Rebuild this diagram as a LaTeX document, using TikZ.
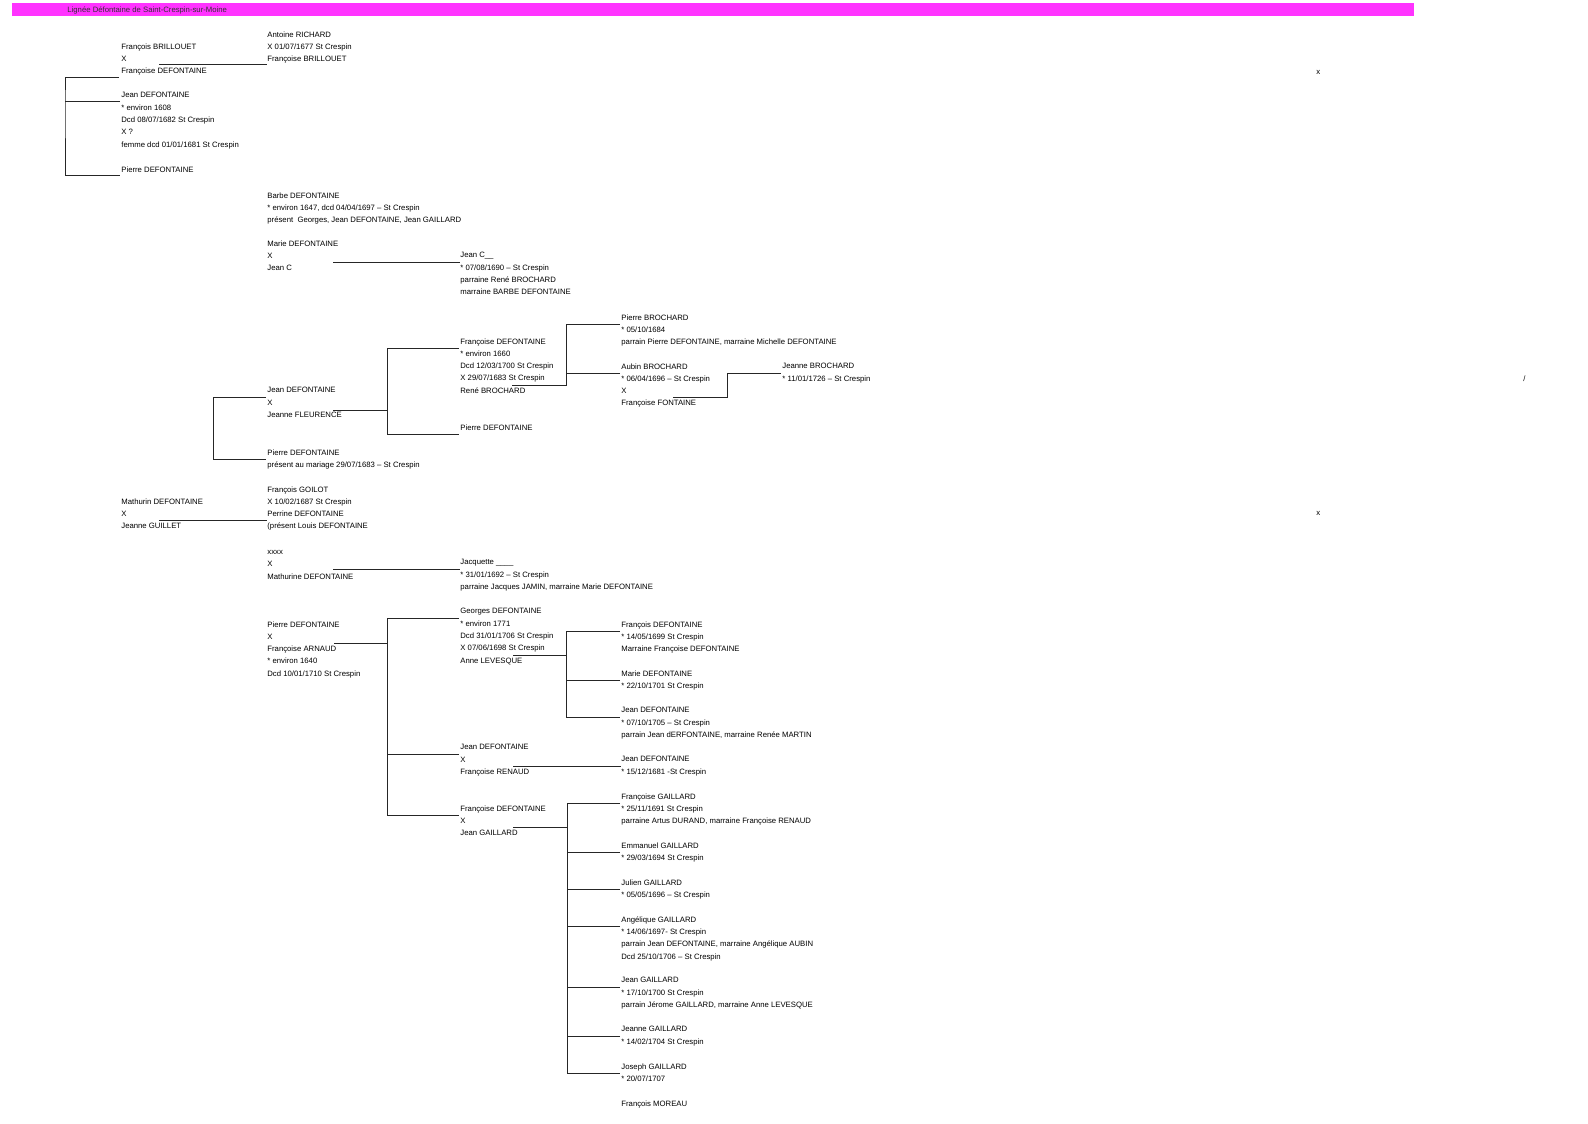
\documentclass[tikz,border=0pt]{standalone}
\usepackage{fontspec}
\setmainfont{Liberation Sans}
\usetikzlibrary{calc}
\definecolor{titlepink}{RGB}{255,51,255}

\begin{document}
\begin{tikzpicture}[
    person/.style={anchor=north west, inner sep=0pt, align=left,
        font=\fontsize{3.87}{6.15}\selectfont},
    tie/.style={draw=black!85, line width=0.5pt},
    x=0.5pt, y=-0.5pt
]
\useasboundingbox (0,0) rectangle (1588,1123);

% ── Title bar ────────────────────────────────────────────────────────────────
\fill[titlepink] (12,3) rectangle (1414,16);
\node[person, text=black!80] (title) at (67,6) {Lignée Défontaine de Saint-Crespin-sur-Moine};

% ── Column 1 ─────────────────────────────────────────────────────────────────
\node[person] (fb)  at (121,43)  {François BRILLOUET\\X\\Françoise DEFONTAINE};
\node[person] (jd)  at (121,92)  {Jean DEFONTAINE\\* environ 1608\\Dcd 08/07/1682 St Crespin\\X ?\\femme dcd 01/01/1681 St Crespin};
\node[person] (pd1) at (121,166) {Pierre DEFONTAINE};
\node[person] (mtd) at (121,498) {Mathurin DEFONTAINE\\X\\Jeanne GUILLET};

% ── Column 2 ─────────────────────────────────────────────────────────────────
\node[person] (ar)  at (267,31)  {Antoine RICHARD\\X 01/07/1677 St Crespin\\Françoise BRILLOUET};
\node[person] (bd)  at (267,192) {Barbe DEFONTAINE\\* environ 1647, dcd 04/04/1697 – St Crespin\\présent~ Georges, Jean DEFONTAINE, Jean GAILLARD};
\node[person] (md)  at (267,240) {Marie DEFONTAINE\\X\\Jean C};
\node[person] (jfl) at (267,387) {Jean DEFONTAINE\\X\\Jeanne FLEURENCE};
\node[person] (pd3) at (267,449) {Pierre DEFONTAINE\\présent au mariage 29/07/1683 – St Crespin};
\node[person] (fg)  at (267,486) {François GOILOT\\X 10/02/1687 St Crespin\\Perrine DEFONTAINE\\(présent Louis DEFONTAINE};
\node[person] (xx)  at (267,550) {xxxx\\X\\Mathurine DEFONTAINE};
\node[person] (pa)  at (267,621) {Pierre DEFONTAINE\\X\\Françoise ARNAUD\\* environ 1640\\Dcd 10/01/1710 St Crespin};

% ── Column 3 ─────────────────────────────────────────────────────────────────
\node[person] (jc)  at (460,252) {Jean C\_\_\\* 07/08/1690 – St Crespin\\parraine René BROCHARD\\marraine BARBE DEFONTAINE};
\node[person] (fd1) at (460,338) {Françoise DEFONTAINE\\* environ 1660\\Dcd 12/03/1700 St Crespin\\X 29/07/1683 St Crespin\\René BROCHARD};
\node[person] (pd2) at (460,424) {Pierre DEFONTAINE};
\node[person] (jq)  at (460,559) {Jacquette \_\_\_\_\\* 31/01/1692 – St Crespin\\parraine Jacques JAMIN, marraine Marie DEFONTAINE};
\node[person] (gd)  at (460,608) {Georges DEFONTAINE\\* environ 1771\\Dcd 31/01/1706 St Crespin\\X 07/06/1698 St Crespin\\Anne LEVESQUE};
\node[person] (jr)  at (460,744) {Jean DEFONTAINE\\X\\Françoise RENAUD};
\node[person] (fd2) at (460,805) {Françoise DEFONTAINE\\X\\Jean GAILLARD};

% ── Column 4 ─────────────────────────────────────────────────────────────────
\node[person] (pb)  at (621,314)  {Pierre BROCHARD\\* 05/10/1684\\parrain Pierre DEFONTAINE, marraine Michelle DEFONTAINE};
\node[person] (ab)  at (621,363)  {Aubin BROCHARD\\* 06/04/1696 – St Crespin\\X\\Françoise FONTAINE};
\node[person] (frd) at (621,621)  {François DEFONTAINE\\* 14/05/1699 St Crespin\\Marraine Françoise DEFONTAINE};
\node[person] (mad) at (621,670)  {Marie DEFONTAINE\\* 22/10/1701 St Crespin};
\node[person] (jd2) at (621,707)  {Jean DEFONTAINE\\* 07/10/1705 – St Crespin\\parrain Jean dERFONTAINE, marraine Renée MARTIN};
\node[person] (jd3) at (621,756)  {Jean DEFONTAINE\\* 15/12/1681 -St Crespin};
\node[person] (fga) at (621,793)  {Françoise GAILLARD\\* 25/11/1691 St Crespin\\parraine Artus DURAND, marraine Françoise RENAUD};
\node[person] (eg)  at (621,842)  {Emmanuel GAILLARD\\* 29/03/1694 St Crespin};
\node[person] (jug) at (621,879)  {Julien GAILLARD\\* 05/05/1696 – St Crespin};
\node[person] (ag)  at (621,916)  {Angélique GAILLARD\\* 14/06/1697- St Crespin\\parrain Jean DEFONTAINE, marraine Angélique AUBIN\\Dcd 25/10/1706 – St Crespin};
\node[person] (jg)  at (621,977)  {Jean GAILLARD\\* 17/10/1700 St Crespin\\parrain Jérome GAILLARD, marraine Anne LEVESQUE};
\node[person] (jeg) at (621,1026) {Jeanne GAILLARD\\* 14/02/1704 St Crespin};
\node[person] (jog) at (621,1063) {Joseph GAILLARD\\* 20/07/1707};
\node[person] (fm)  at (621,1100) {François MOREAU};

% ── Column 5 and stray marks ─────────────────────────────────────────────────
\node[person] (jb)  at (782,363)  {Jeanne BROCHARD\\* 11/01/1726 – St Crespin};
\node[person] (mk1) at (1316,70)  {x};
\node[person] (mk2) at (1523,375) {/};
\node[person] (mk3) at (1316,511) {x};

% ── Branch ends and spines ───────────────────────────────────────────────────
\foreach \p in {jd,pd1,jfl,pd3,fd1,pd2,pb,ab,jb,gd,jr,fd2,frd,mad,jd2,fga,eg,jug,ag,jg,jeg,jog}
    \coordinate (\p-in) at ($(\p.north west)+(-1,10)$);
\coordinate (fb-in) at ($(fb.north west)+(-2,35)$);

\coordinate (s-top)    at (65,0);
\coordinate (s-jean)   at (213,0);
\coordinate (s-fleur)  at (387,0);
\coordinate (s-broch)  at (566,0);
\coordinate (s-aubin)  at (727,0);
\coordinate (s-arnaud) at (387,0);
\coordinate (s-georg)  at (566,0);
\coordinate (s-gail)   at (567,0);

% ── Marriages ────────────────────────────────────────────────────────────────
\draw[tie] ($(fb.north west)+(38,22)$)  coordinate (m) -- (m -| ar.west);
\draw[tie] ($(md.north west)+(66,22)$)  coordinate (m) -- (m -| jc.west);
\draw[tie] ($(mtd.north west)+(38,22)$) coordinate (m) -- (m -| fg.west);
\draw[tie] ($(xx.north west)+(66,19)$)  coordinate (m) -- (m -| jq.west);
\draw[tie] ($(jr.north west)+(53,22)$)  coordinate (m) -- (m -| jd3.west);

% ── Brackets ─────────────────────────────────────────────────────────────────
\draw[tie] (fb-in) -| (s-top |- jd-in) |- (pd1-in);
\draw[tie] (jd-in) -- (jd-in -| s-top);

\draw[tie] (jfl-in) -| (s-jean |- pd3-in) -- (pd3-in);

\draw[tie] ($(jfl.north west)+(66,23)$) coordinate (m) -- (m -| s-fleur);
\draw[tie] (fd1-in) -| (s-fleur |- pd2-in) -- (pd2-in);

\draw[tie] ($(fd1.north west)+(52,47)$) coordinate (m) -- (m -| s-broch) |- (pb-in);
\draw[tie] (ab-in) -- (ab-in -| s-broch);

\draw[tie] ($(ab.north west)+(52,34)$) coordinate (m) -- (m -| s-aubin) |- (jb-in);

\draw[tie] ($(pa.north west)+(67,22)$) coordinate (m) -- (m -| s-arnaud);
\draw[tie] (gd-in) -| (s-arnaud |- fd2-in) -- (fd2-in);
\draw[tie] (jr-in) -- (jr-in -| s-arnaud);

\draw[tie] ($(gd.north west)+(53,47)$) coordinate (m) -- (m -| s-georg);
\draw[tie] (frd-in) -| (s-georg |- jd2-in) -- (jd2-in);
\draw[tie] (mad-in) -- (mad-in -| s-georg);

\draw[tie] ($(fd2.north west)+(53,22)$) coordinate (m) -- (m -| s-gail);
\draw[tie] (fga-in) -| (s-gail |- jog-in) -- (jog-in);
\foreach \c in {eg,jug,ag,jg,jeg}
    \draw[tie] (\c-in) -- (\c-in -| s-gail);

\end{tikzpicture}
\end{document}
